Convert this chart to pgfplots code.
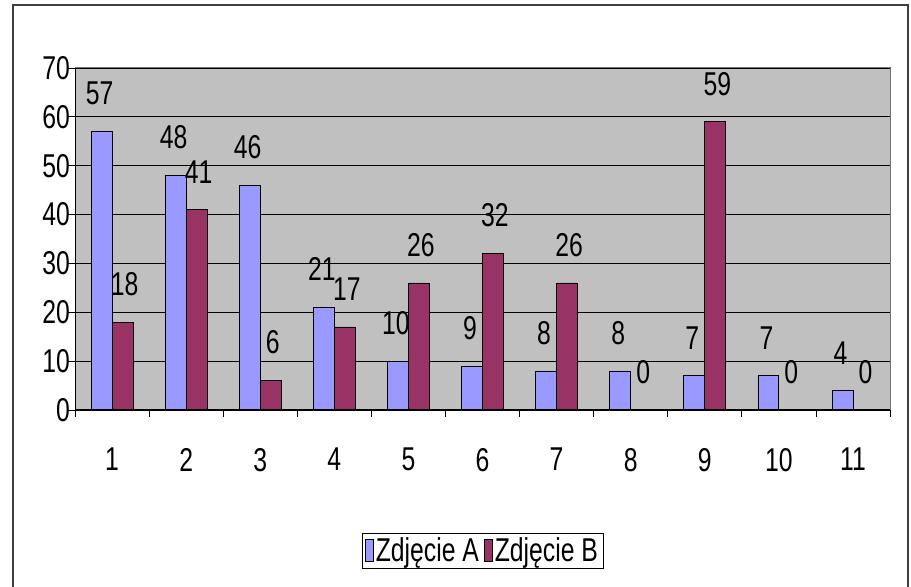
\documentclass[border=0pt]{standalone}
\usepackage{fontspec}
\setmainfont{Liberation Sans}[FakeStretch=0.75]
\usepackage{pgfplots}
\pgfplotsset{compat=1.18}
\definecolor{barA}{RGB}{153,153,255}
\definecolor{barB}{RGB}{153,51,102}
\definecolor{plotbg}{RGB}{192,192,192}
\newcommand{\bigf}{\fontsize{33bp}{38bp}\selectfont}
\begin{document}
\begin{tikzpicture}[x=1bp,y=1bp]
\useasboundingbox (0,0) rectangle (911,587);
\draw[line width=1.5bp, black!75] (13,-2) -- (13,582) -- (908,582) -- (908,-2);
\begin{axis}[
  at={(75bp,177bp)}, anchor=south west,
  scale only axis, width=815bp, height=342bp,
  /pgf/number format/assume math mode=true,
  ybar=0pt, bar width=0.283,
  xmin=0.5, xmax=11.5, ymin=0, ymax=70,
  ytick={0,10,...,70},
  ymajorgrids, grid style={black, line width=0.8bp},
  axis background/.style={fill=plotbg},
  axis line style={black!55, line width=1bp},
  xtick={0.5,1.5,...,11.5},
  x tick label as interval,
  xticklabels={1,2,3,4,5,6,7,8,9,10,11},
  xtick pos=bottom, ytick pos=left,
  tick align=outside, major tick length=7bp,
  tick style={black, line width=0.8bp},
  ticklabel style={font=\bigf},
  xticklabel style={anchor=north, inner sep=0pt, yshift=-31bp},
  yticklabel style={anchor=east, inner sep=0pt, xshift=2bp},
  nodes near coords={\pgfmathprintnumber[assume math mode=true]{\pgfplotspointmeta}},
  every node near coord/.append style={font=\bigf, anchor=south, inner sep=0pt, yshift=26bp, black},
  legend columns=-1,
  legend style={at={(0.5,-0.411)}, anchor=center, draw=black, fill=white, font=\bigf,
    inner xsep=3bp, inner ysep=3bp,
    /tikz/every even column/.append style={column sep=3bp}},
  legend image code/.code={\draw[#1] (0bp,-11bp) rectangle (8bp,11bp);},
]
\addplot[fill=barA, draw=black, line width=0.8bp,
  every node near coord/.append style={xshift=-2bp}] coordinates {(1,57) (2,48) (3,46) (4,21) (5,10) (6,9) (7,8) (8,8) (9,7) (10,7) (11,4)};
\addplot[fill=barB, draw=black, line width=0.8bp,
  every node near coord/.append style={xshift=2bp}] coordinates {(1,18) (2,41) (3,6) (4,17) (5,26) (6,32) (7,26) (8,0) (9,59) (10,0) (11,0)};
\legend{Zdjęcie A, Zdjęcie B}
\draw[black, line width=1bp] (rel axis cs:0,0) -- (rel axis cs:1,0);
\draw[black, line width=1bp] (rel axis cs:0,0) -- (rel axis cs:0,1);
\end{axis}
\end{tikzpicture}
\end{document}
